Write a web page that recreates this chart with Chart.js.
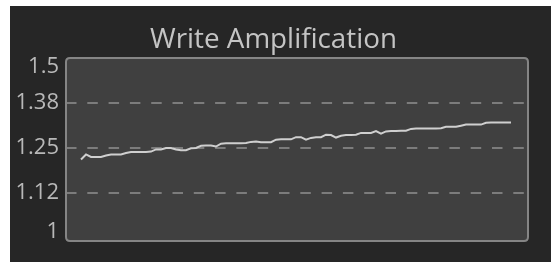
<!DOCTYPE html>
<html><head><meta charset="utf-8">
<script src="https://cdn.jsdelivr.net/npm/chart.js@4/dist/chart.umd.min.js"></script>
<style>
html,body{margin:0;padding:0;background:#fff;width:551px;height:268px;overflow:hidden}
#wrap{position:absolute;left:10px;top:6px;width:541px;height:256px;background:#262626}
canvas{display:block}
</style></head><body>
<div id="wrap"><canvas id="c" width="541" height="256"></canvas></div>
<script>
const titleText = 'Write Amplification';
const tickValues = [1, 1.125, 1.25, 1.375, 1.5];
const tickLabels = ['1', '1.12', '1.25', '1.38', '1.5'];
const writeAmp = [
1.218,1.232,1.225,1.225,1.225,1.229,1.232,1.232,1.232,1.236,
1.239,1.239,1.239,1.239,1.240,1.246,1.246,1.250,1.250,1.246,
1.244,1.244,1.249,1.250,1.256,1.257,1.257,1.254,1.262,1.263,
1.263,1.263,1.263,1.264,1.267,1.268,1.266,1.266,1.266,1.273,
1.274,1.274,1.274,1.280,1.280,1.273,1.278,1.280,1.280,1.287,
1.286,1.279,1.284,1.286,1.286,1.287,1.292,1.292,1.292,1.297,
1.290,1.296,1.297,1.297,1.298,1.298,1.303,1.304,1.304,1.304,
1.304,1.304,1.305,1.309,1.309,1.309,1.312,1.315,1.315,1.315,
1.315,1.320,1.321,1.321,1.321,1.321,1.321];
const samples = writeAmp.map((_, i) => i);

function rr(ctx, x, y, w, h, r){
  ctx.beginPath();
  ctx.moveTo(x+r, y); ctx.lineTo(x+w-r, y); ctx.quadraticCurveTo(x+w, y, x+w, y+r);
  ctx.lineTo(x+w, y+h-r); ctx.quadraticCurveTo(x+w, y+h, x+w-r, y+h);
  ctx.lineTo(x+r, y+h); ctx.quadraticCurveTo(x, y+h, x, y+h-r);
  ctx.lineTo(x, y+r); ctx.quadraticCurveTo(x, y, x+r, y);
  ctx.closePath();
}

const deco = {
  id: 'deco',
  beforeDraw(chart){
    const {ctx, chartArea:a} = chart;
    ctx.save();
    rr(ctx, a.left, a.top, a.right-a.left, a.bottom-a.top+3, 4);
    ctx.fillStyle = '#404040';
    ctx.fill();
    ctx.restore();
  },
  afterDraw(chart){
    const {ctx, chartArea:a, scales} = chart;
    ctx.save();
    rr(ctx, a.left, a.top, a.right-a.left, a.bottom-a.top+3, 4);
    ctx.strokeStyle = '#858585';
    ctx.lineWidth = 2;
    ctx.stroke();
    // title, sized to the reference width
    ctx.fillStyle = '#c4c4c4';
    let fs = 26;
    ctx.font = fs + 'px "Open Sans"';
    const w = ctx.measureText(titleText).width;
    fs = fs * 247 / w;
    ctx.font = fs.toFixed(1) + 'px "Open Sans"';
    ctx.textAlign = 'center';
    ctx.textBaseline = 'middle';
    ctx.fillText(titleText, 263.5, 34);
    // y labels
    ctx.fillStyle = '#b8b8b8';
    ctx.font = '22px "Open Sans"';
    ctx.textAlign = 'right';
    tickValues.forEach((v, i) => {
      let y = scales.y.getPixelForValue(v);
      y = Math.min(Math.max(y, a.top+9), a.bottom-6);
      ctx.fillText(tickLabels[i], 49, y);
    });
    ctx.restore();
  }
};

new Chart(document.getElementById('c'), {
  type: 'line',
  data: {
    labels: samples,
    datasets: [{
      data: writeAmp.map((v, i) => ({x: samples[i], y: v})),
      borderColor: '#cfcfcf',
      borderWidth: 2,
      pointRadius: 0,
      tension: 0,
      fill: false
    }]
  },
  options: {
    responsive: false,
    animation: false,
    events: [],
    layout: {padding: {left: 56, top: 52, right: 23, bottom: 24}},
    plugins: {legend: {display: false}, title: {display: false}, tooltip: {enabled: false}},
    scales: {
      x: {
        type: 'linear', min: -3, max: 89.4,
        display: false
      },
      y: {
        min: 1, max: 1.5,
        afterBuildTicks(s){ s.ticks = tickValues.map(v => ({value: v})); },
        ticks: {display: false},
        grid: {
          drawTicks: false,
          color: c => (c.tick && (c.tick.value === 1 || c.tick.value === 1.5)) ? 'rgba(0,0,0,0)' : '#7c7c7c',
          lineWidth: 2,
          tickLength: 0
        },
        border: {display: false, dash: [10.5, 10.8]}
      }
    }
  },
  plugins: [deco]
});
</script>
</body></html>
